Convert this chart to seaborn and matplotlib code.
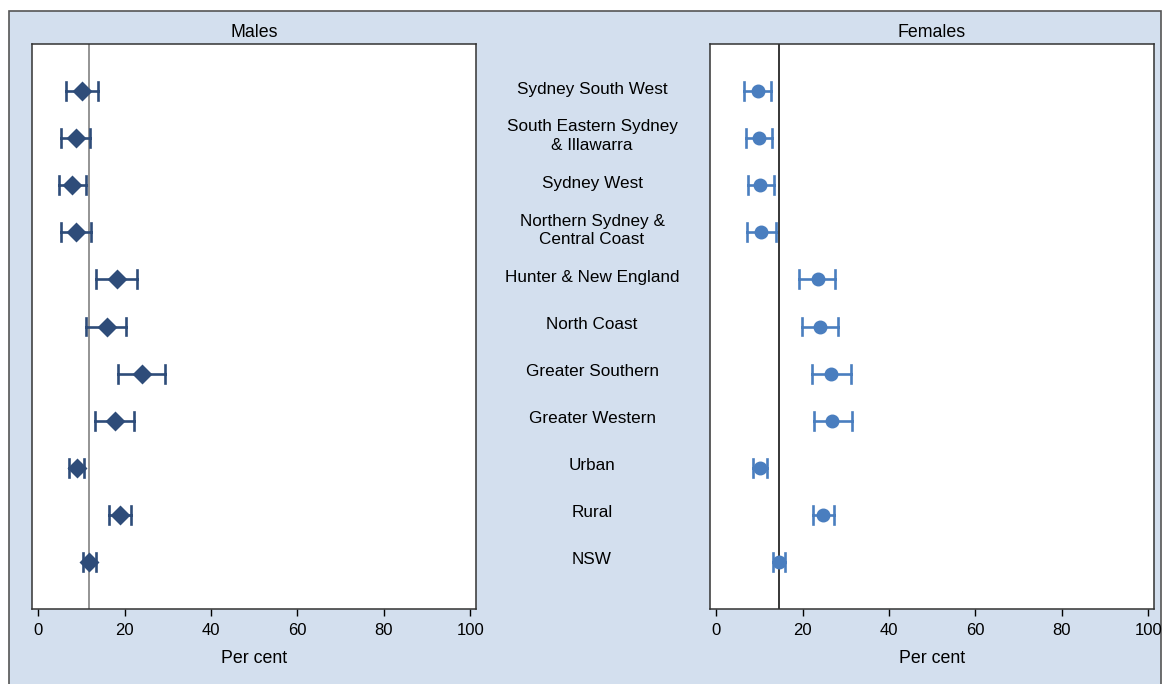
import matplotlib
matplotlib.use("Agg")
import matplotlib.pyplot as plt
import matplotlib.patches as patches
import matplotlib.transforms as mtransforms
import seaborn as sns
import pandas as pd

regions = [
    "Sydney South West",
    "South Eastern Sydney\n& Illawarra",
    "Sydney West",
    "Northern Sydney &\nCentral Coast",
    "Hunter & New England",
    "North Coast",
    "Greater Southern",
    "Greater Western",
    "Urban",
    "Rural",
    "NSW",
]

# per cent estimates with lower / upper 95% CI
males_est = [10.2, 8.8, 7.9, 8.8, 18.2, 15.9, 24.1, 17.7, 8.9, 18.9, 11.8]
males_lo = [6.5, 5.3, 4.8, 5.3, 13.3, 11.2, 18.4, 13.1, 7.2, 16.3, 10.4]
males_hi = [13.8, 12.1, 11.1, 12.3, 22.9, 20.4, 29.4, 22.3, 10.7, 21.6, 13.5]

females_est = [9.6, 9.9, 10.2, 10.5, 23.5, 24.0, 26.7, 26.9, 10.2, 24.8, 14.5]
females_lo = [6.5, 6.9, 7.4, 7.2, 19.2, 19.8, 22.2, 22.6, 8.5, 22.4, 13.2]
females_hi = [12.7, 13.0, 13.5, 13.9, 27.6, 28.2, 31.1, 31.5, 11.8, 27.2, 15.9]

males_nsw = 11.8
females_nsw = 14.5

ticks = [0, 20, 40, 60, 80, 100]

bg = "#d3dfee"
male_col = "#2e4c79"
female_col = "#4a7ebf"

plt.rcParams["font.family"] = ["Liberation Sans", "DejaVu Sans"]
plt.rcParams["font.size"] = 12


def long_df(lo, est, hi):
    # three values per region: median = estimate, min/max = CI
    rows = []
    for r, a, b, c in zip(regions, lo, est, hi):
        rows += [(r, a), (r, b), (r, c)]
    return pd.DataFrame(rows, columns=["region", "pct"])


fig = plt.figure(figsize=(11.63, 6.84), dpi=100)
fig.patch.set_facecolor("white")
fig.add_artist(
    patches.Rectangle(
        (9 / 1163, -0.01), 1152 / 1163, (684 - 11) / 684 + 0.01,
        transform=fig.transFigure, facecolor=bg, edgecolor="#555555",
        linewidth=1.2, zorder=-10,
    )
)

ax_m = fig.add_axes([32 / 1163, 75 / 684, 444 / 1163, 565 / 684])
ax_f = fig.add_axes([710 / 1163, 75 / 684, 444 / 1163, 565 / 684])

panels = [
    (ax_m, long_df(males_lo, males_est, males_hi), male_col, "D", 8, "Males", males_nsw, "#777777"),
    (ax_f, long_df(females_lo, females_est, females_hi), female_col, "o", 8, "Females", females_nsw, "black"),
]

for ax, df, col, mk, ms, title, ref, refcol in panels:
    sns.pointplot(
        data=df, x="pct", y="region", order=regions,
        estimator="median", errorbar=("pi", 100),
        color=col, marker=mk, markersize=ms, linestyle="none",
        capsize=0.38, err_kws={"linewidth": 1.9}, ax=ax,
    )
    ax.axvline(ref, color=refcol, linewidth=1.1, zorder=0)
    ax.set_xlim(-1.4, 101.3)
    ax.set_ylim(11, -1)
    ax.set_xticks(ticks)
    ax.set_yticks([])
    ax.set_ylabel("")
    ax.set_xlabel("Per cent", labelpad=9, fontsize=12.8)
    ax.set_title(title, pad=5, fontsize=12.8)
    ax.tick_params(axis="x", direction="out", length=5, width=1, pad=5, labelsize=12)
    ax.set_facecolor("white")
    for s in ax.spines.values():
        s.set_color("#333333")
        s.set_linewidth(1.1)

# region labels between the panels
trans = mtransforms.blended_transform_factory(fig.transFigure, ax_m.transData)
trans = trans + mtransforms.ScaledTranslation(0, 2 / 100, fig.dpi_scale_trans)
for i, r in enumerate(regions):
    ax_m.text(592 / 1163, i, r, transform=trans, ha="center", va="center",
              fontsize=12.3, linespacing=1.3)

fig.savefig("out.png", dpi=100)
